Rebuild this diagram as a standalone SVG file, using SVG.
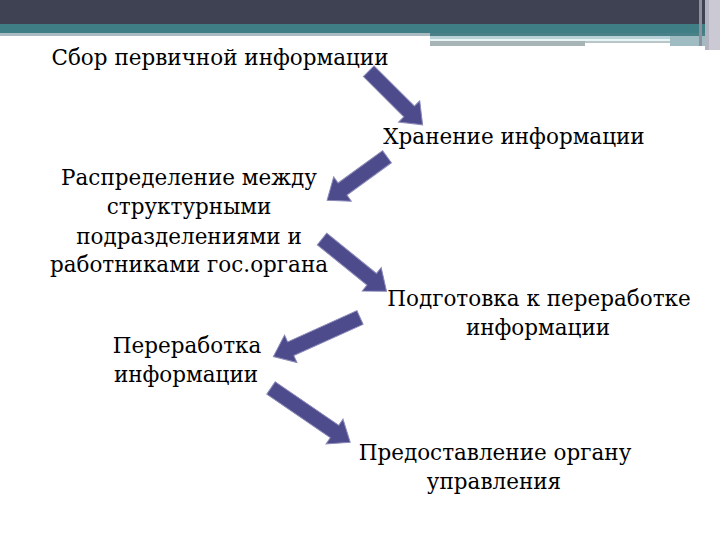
<svg xmlns="http://www.w3.org/2000/svg" width="720" height="540" viewBox="0 0 720 540">
<style>
.t{font-family:"DejaVu Serif",serif;font-size:21.5px;fill:#000;text-anchor:middle}
.a{fill:#4d4b8b;stroke:#8a89b8;stroke-width:1}
</style>
<rect x="0" y="0" width="720" height="540" fill="#ffffff"/>
<g id="header">
<rect x="0" y="0" width="720" height="24" fill="#3f4252"/>
<rect x="0" y="24" width="720" height="9" fill="#3f7e85"/>
<rect x="0" y="33" width="430" height="3" fill="#a9bac1"/>
<rect x="430" y="33" width="275" height="3" fill="#4a8088"/>
<rect x="430" y="36" width="275" height="3" fill="#b9d2d8"/>
<rect x="430" y="39" width="240" height="2" fill="#e8f4f6"/>
<rect x="430" y="41" width="155" height="5" fill="#a6b4b6"/>
<rect x="585" y="41" width="85" height="2" fill="#b8c6c8"/>
<rect x="670" y="36" width="35" height="10" fill="#9fbcc2"/>
<rect x="699" y="0" width="3" height="46" fill="#8e909c"/>
<rect x="705" y="0" width="4" height="50" fill="#b4b3c0"/>
<rect x="709" y="0" width="11" height="50" fill="#cbcad4"/>
</g>
<g id="connectors">
<path class="a" transform="translate(368.7,71.3) rotate(44.8)" d="M0,-7.5H57V-15L76,0L57,15V7.5H0Z"/>
<path class="a" transform="translate(387,156.7) rotate(144)" d="M0,-7.5H55V-15L74,0L55,15V7.5H0Z"/>
<path class="a" transform="translate(322,239) rotate(39)" d="M0,-7.5H64V-15L83,0L64,15V7.5H0Z"/>
<path class="a" transform="translate(360,317.5) rotate(155.7)" d="M0,-7.5H76V-15L95,0L76,15V7.5H0Z"/>
<path class="a" transform="translate(271,388) rotate(34.4)" d="M0,-7.5H77V-15L96,0L77,15V7.5H0Z"/>
</g>
<g id="n1"><text class="t" x="220" y="65">Сбор первичной информации</text></g>
<g id="n2"><text class="t" x="514" y="144">Хранение информации</text></g>
<g id="n3">
<text class="t" x="189" y="185">Распределение между</text>
<text class="t" x="189" y="214">структурными</text>
<text class="t" x="189" y="244">подразделениями и</text>
<text class="t" x="189" y="272">работниками гос.органа</text>
</g>
<g id="n4">
<text class="t" x="539" y="306">Подготовка к переработке</text>
<text class="t" x="538" y="335">информации</text>
</g>
<g id="n5">
<text class="t" x="187" y="353">Переработка</text>
<text class="t" x="186" y="382">информации</text>
</g>
<g id="n6">
<text class="t" x="495" y="460">Предоставление органу</text>
<text class="t" x="494" y="489">управления</text>
</g>
</svg>
